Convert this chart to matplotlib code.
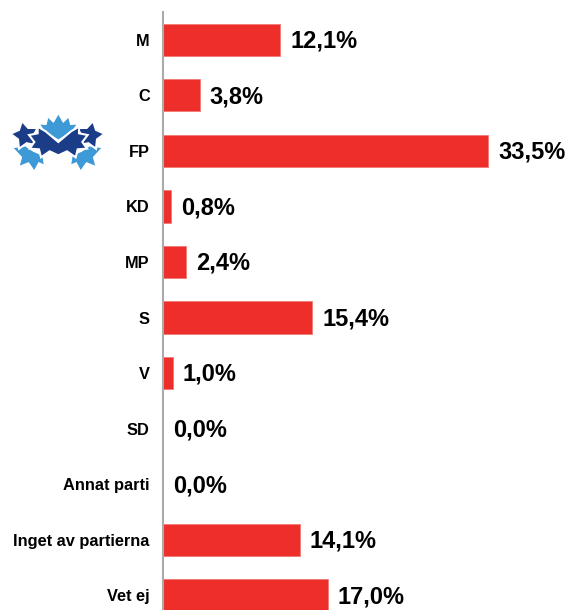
import numpy as np
import matplotlib.pyplot as plt
from matplotlib.patches import Polygon

plt.rcParams['font.family'] = ['Liberation Sans', 'DejaVu Sans']

categories = ['M', 'C', 'FP', 'KD', 'MP', 'S', 'V', 'SD', 'Annat parti',
              'Inget av partierna', 'Vet ej']
values = [12.1, 3.8, 33.5, 0.8, 2.4, 15.4, 1.0, 0.0, 0.0, 14.1, 17.0]
labels = ['12,1%', '3,8%', '33,5%', '0,8%', '2,4%', '15,4%', '1,0%', '0,0%',
          '0,0%', '14,1%', '17,0%']

W, H = 567, 610
fig = plt.figure(figsize=(W / 100, H / 100), dpi=100)
ax = fig.add_axes([163 / W, 1 - 623 / H, 388 / W, 611 / H])

y = list(range(len(categories)))
ax.barh(y, values, height=0.58, color='#ee2e2a', edgecolor='#f27a74', linewidth=0.6)
ax.set_ylim(len(categories) - 0.5, -0.5)
ax.set_xlim(0, 40)

for yi, v, lab in zip(y, values, labels):
    ax.annotate(lab, (v, yi), xytext=(7.2, -1), textcoords='offset points',
                va='center', ha='left', fontsize=17, fontweight='bold')

ax.set_yticks(y)
ax.set_yticklabels(categories, fontsize=11.8, fontweight='bold')
ax.tick_params(axis='y', length=0, pad=9.5)
ax.set_xticks([])
for s in ['top', 'right', 'bottom']:
    ax.spines[s].set_visible(False)
ax.spines['left'].set_color('#aaaaaa')
ax.spines['left'].set_linewidth(1.5)


# party logo next to FP
def star(cx, cy, r, rot):
    ang = np.deg2rad(np.arange(10) * 36 + rot)
    rr = np.where(np.arange(10) % 2 == 0, r, r * 0.55)
    return np.column_stack([cx + rr * np.sin(ang), cy - rr * np.cos(ang)])


lx = fig.add_axes([5 / W, 1 - 175 / H, 105 / W, 65 / H])
lx.set_xlim(0, 315)
lx.set_ylim(195, 0)
lx.axis('off')
light = '#3d9ad6'
dark = '#1b3c87'

low_left = np.array([(20, 112), (62, 106), (85, 122), (115, 135), (120, 168),
                     (102, 160), (88, 186), (70, 160), (40, 172), (48, 142)])
low_right = low_left.copy()
low_right[:, 0] = 315 - low_right[:, 0]
top = [(100, 40), (122, 42), (128, 18), (145, 34), (160, 8), (175, 34),
       (192, 18), (198, 42), (220, 40), (204, 64), (160, 92), (116, 64)]
center = [(72, 75), (98, 70), (98, 50), (122, 64), (160, 96), (198, 64),
          (222, 50), (222, 70), (248, 75), (232, 96), (246, 116), (218, 118),
          (212, 142), (186, 124), (160, 136), (134, 124), (108, 142),
          (102, 118), (74, 116), (88, 96)]

shapes = [(low_left, light), (low_right, light),
          (star(60, 76, 44, -12), dark), (star(255, 76, 44, 12), dark),
          (top, light), (center, dark)]
for pts, c in shapes:
    lx.add_patch(Polygon(pts, closed=True, facecolor=c, edgecolor='white',
                         linewidth=1.5, joinstyle='miter'))

fig.savefig('out.png', dpi=100)
